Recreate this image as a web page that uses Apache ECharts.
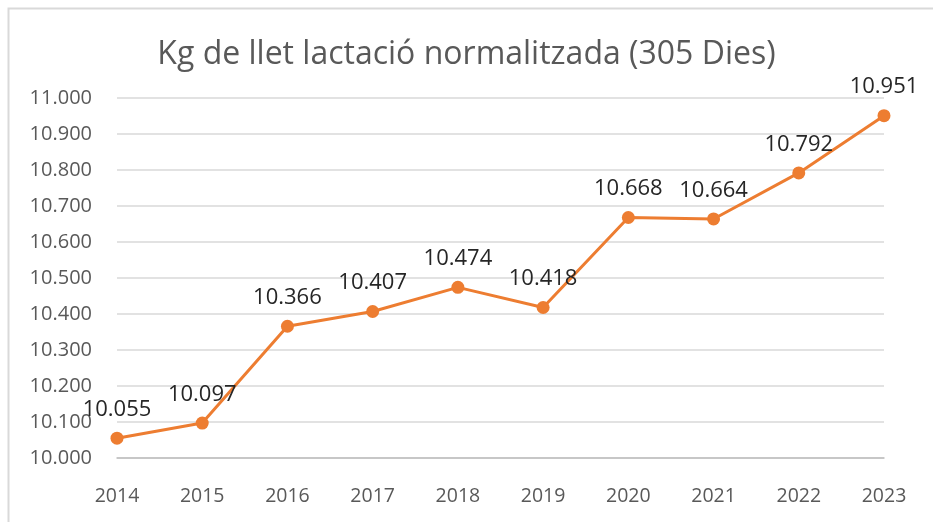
<!DOCTYPE html>
<html>
<head>
<meta charset="utf-8">
<script src="https://cdn.jsdelivr.net/npm/echarts@6/dist/echarts.min.js"></script>
<style>
	html, body { margin: 0; padding: 0; background: #fff; }
	#chart { width: 933px; height: 522px; }
</style>
</head>
<body>
<div id="chart"></div>
<script type="text/javascript">
	// dades
	var years = ['2014', '2015', '2016', '2017', '2018', '2019', '2020', '2021', '2022', '2023'];
	var kgLlet = [10055, 10097, 10366, 10407, 10474, 10418, 10668, 10664, 10792, 10951];

	// format amb punt de milers: 10055 -> "10.055"
	function fmt(v) {
		return (v / 1000).toFixed(3);
	}

	var chart = echarts.init(document.getElementById('chart'));
	var option = {
		backgroundColor: '#fff',
		textStyle: { fontFamily: 'Open Sans' },
		title: {
			text: 'Kg de llet lactació normalitzada (305 Dies)',
			left: 'center',
			top: 34,
			textStyle: { fontSize: 32, fontWeight: 'normal', color: '#595959', fontFamily: 'Open Sans' }
		},
		graphic: [{
			type: 'rect',
			shape: { x: 8.5, y: 8.5, width: 960, height: 560 },
			style: { fill: 'none', stroke: '#d9d9d9', lineWidth: 2 },
			silent: true
		}],
		grid: { left: 117, right: 49, top: 98, bottom: 64 },
		xAxis: {
			type: 'category',
			data: years,
			boundaryGap: false,
			axisLine: { lineStyle: { color: '#bfbfbf', width: 1.5 } },
			axisTick: { show: false },
			axisLabel: { color: '#595959', fontSize: 19.5, margin: 28 }
		},
		yAxis: {
			type: 'value',
			min: 10000,
			max: 11000,
			interval: 100,
			axisLine: { show: false },
			axisTick: { show: false },
			splitLine: { lineStyle: { color: '#d9d9d9', width: 1.5 } },
			axisLabel: { color: '#595959', fontSize: 20, margin: 25, formatter: fmt }
		},
		series: [{
			name: 'Kg de llet',
			type: 'line',
			data: kgLlet,
			symbol: 'circle',
			symbolSize: 13,
			lineStyle: { color: '#ED7D31', width: 3 },
			itemStyle: { color: '#ED7D31' },
			label: {
				show: true,
				position: 'top',
				distance: 11,
				color: '#262626',
				fontSize: 22,
				formatter: function (p) { return fmt(p.value); }
			}
		}]
	};
	chart.setOption(option);
</script>
</body>
</html>
